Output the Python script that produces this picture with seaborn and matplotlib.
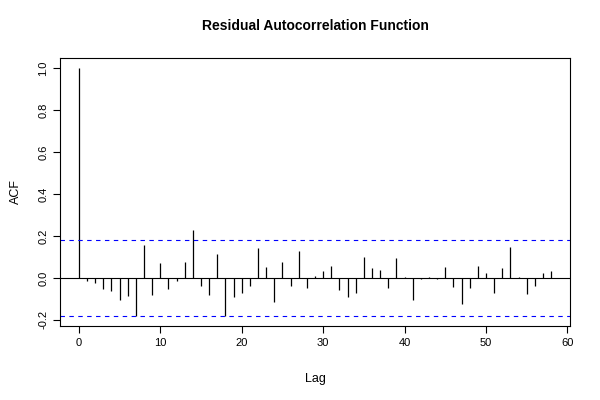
import numpy as np
import pandas as pd
import matplotlib
matplotlib.use("Agg")
import matplotlib.pyplot as plt
import seaborn as sns

# ACF values, lags 0..58
lags = np.arange(0, 59)
acf = [1.0, -0.016, -0.026, -0.054, -0.061, -0.107, -0.086, -0.18, 0.158, -0.083,
       0.069, -0.054, -0.014, 0.077, 0.226, -0.04, -0.083, 0.115, -0.18, -0.092,
       -0.07, -0.04, 0.144, 0.053, -0.117, 0.077, -0.04, 0.129, -0.048, 0.01,
       0.035, 0.059, -0.057, -0.092, -0.07, 0.1, 0.045, 0.038, -0.048, 0.097,
       0.005, -0.104, -0.006, 0.006, -0.006, 0.053, -0.045, -0.126, -0.046, 0.059,
       0.021, -0.073, 0.046, 0.147, 0.005, -0.078, -0.04, 0.021, 0.033]
conf = 0.182
x_ticks = [0, 10, 20, 30, 40, 50, 60]
y_ticks = [-0.2, 0.0, 0.2, 0.4, 0.6, 0.8, 1.0]

sns.set_theme(style="ticks", rc={"text.color": "black", "axes.labelcolor": "black",
                                 "xtick.color": "black", "ytick.color": "black"})
plt.rcParams['font.family'] = ['Liberation Sans', 'DejaVu Sans']

df = pd.DataFrame({"lag": lags, "acf": acf})

fig = plt.figure(figsize=(6, 4), dpi=100)
ax = fig.add_axes([0.1, 0.185, 0.85, 0.67])

ax.vlines(df["lag"], 0, df["acf"], color="black", linewidth=0.9)
ax.axhline(0, color="black", linewidth=0.8)
ax.axhline(conf, color="blue", linewidth=0.8, linestyle=(0, (4, 4)))
ax.axhline(-conf, color="blue", linewidth=0.8, linestyle=(0, (4, 4)))

ax.set_xlim(-2.32, 60.32)
ax.set_ylim(-0.229, 1.047)
ax.set_xticks(x_ticks)
ax.set_yticks(y_ticks)
ax.set_xticklabels([str(t) for t in x_ticks], fontsize=8)
ax.set_yticklabels([f"{t:.1f}" for t in y_ticks], fontsize=8, rotation=90, va="center")
ax.tick_params(direction="out", length=5, width=0.8, color="black")

for s in ax.spines.values():
    s.set_visible(True)
    s.set_color("black")
    s.set_linewidth(0.8)

ax.set_xlabel("Lag", fontsize=9, labelpad=18)
ax.set_ylabel("ACF", fontsize=9, labelpad=12)
ax.set_title("Residual Autocorrelation Function", fontsize=10, fontweight="bold", pad=20)

fig.savefig("out.png", dpi=100)
